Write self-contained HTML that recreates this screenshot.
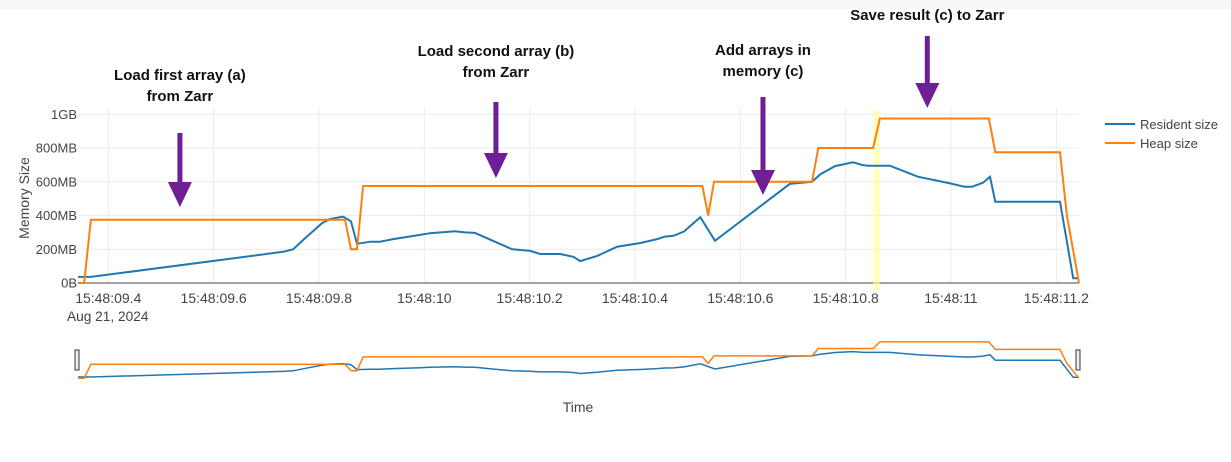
<!DOCTYPE html>
<html><head><meta charset="utf-8"><style>
body{margin:0;background:#fff;width:1231px;height:457px;overflow:hidden;font-family:"Liberation Sans",Arial,sans-serif}
svg text{font-family:"Liberation Sans",Arial,sans-serif}
</style></head><body>
<svg id="chart" width="1231" height="457" xmlns="http://www.w3.org/2000/svg">
<rect x="0" y="0" width="1231" height="9" fill="#f6f7f9"/>
<g id="grid"></g>
<rect x="873" y="110" width="7" height="180" fill="#ffff99" opacity="0.6"/>
<g id="series"></g>
<g id="slider"></g>
<g id="annotations"></g>
<text transform="translate(29,198) rotate(-90)" text-anchor="middle" font-size="14" fill="#444">Memory Size</text>
<text x="578" y="412" text-anchor="middle" font-size="14" fill="#444">Time</text>
<text x="67" y="321" font-size="13.7" fill="#444">Aug 21, 2024</text>
<g>
<line x1="1105" y1="124" x2="1135" y2="124" stroke="#1f77b4" stroke-width="2"/>
<text x="1140" y="129" font-size="13" fill="#444">Resident size</text>
<line x1="1105" y1="143" x2="1135" y2="143" stroke="#ff7f0e" stroke-width="2"/>
<text x="1140" y="148" font-size="13" fill="#444">Heap size</text>
</g>
</svg>
<script>
const residentT=[9.3425,9.367,9.7318,9.7508,9.7698,9.8059,9.8211,9.8458,9.8609,9.8723,9.897,9.916,9.9407,9.992,10.011,10.058,10.077,10.096,10.134,10.167,10.201,10.220,10.258,10.283,10.296,10.328,10.366,10.410,10.442,10.457,10.473,10.493,10.524,10.552,10.694,10.736,10.752,10.780,10.814,10.831,10.841,10.884,10.937,10.994,11.026,11.040,11.061,11.074,11.084,11.207,11.232,11.243];
const residentV=[36,36,185,200,255,355,380,393,365,232,245,245,260,285,295,307,300,297,245,200,190,172,172,155,130,160,215,237,260,275,280,305,390,250,587,600,645,693,715,700,695,695,630,593,570,570,595,630,482,482,28,28];
const heapT=[9.3425,9.354,9.367,9.8495,9.8609,9.8723,9.8837,10.528,10.539,10.550,10.736,10.748,10.852,10.865,11.072,11.084,11.207,11.220,11.243];
const heapV=[0,0,375,375,200,200,575,575,400,600,600,800,800,975,975,775,775,400,0];
const yTicks=[0,200,400,600,800,1000];
const yTickLabels=["0B","200MB","400MB","600MB","800MB","1GB"];
const xTicks=[9.4,9.6,9.8,10.0,10.2,10.4,10.6,10.8,11.0,11.2];
const xTickLabels=["15:48:09.4","15:48:09.6","15:48:09.8","15:48:10","15:48:10.2","15:48:10.4","15:48:10.6","15:48:10.8","15:48:11","15:48:11.2"];
const annTexts=[["Load first array (a)","from Zarr"],["Load second array (b)","from Zarr"],["Add arrays in","memory (c)"],["Save result (c) to Zarr"]];
const annT=[9.536,10.136,10.643,10.955];
const annTextY=[80,56,55,20];
const annArrowTop=[133,102,97,36];
const annArrowTip=[207,178,195,108];

const NS="http://www.w3.org/2000/svg";
const X0=78,X1=1079,T0=9.3425,T1=11.243;
const x=t=>X0+(t-T0)/(T1-T0)*(X1-X0);
const y=v=>283-v*0.16875;
const ys=v=>378.3-v*0.0373;
function mk(tag,attrs,parent){const e=document.createElementNS(NS,tag);for(const k in attrs)e.setAttribute(k,attrs[k]);parent.appendChild(e);return e;}
const grid=document.getElementById('grid');
yTicks.forEach((v,i)=>{
  if(v>0){const l=mk('line',{x1:X0,x2:X1,y1:y(v),y2:y(v),stroke:'#ebebeb','stroke-width':1},grid);
  
  }
  const t=mk('text',{x:X0-1,y:y(v)+4.5,'text-anchor':'end','font-size':13,fill:'#444'},grid);t.textContent=yTickLabels[i];
  
  
});
xTicks.forEach((v,i)=>{
  const l=mk('line',{x1:x(v),x2:x(v),y1:107,y2:283,stroke:'#ebebeb','stroke-width':1},grid);
  
  
  const t=mk('text',{x:x(v),y:303,'text-anchor':'middle','font-size':14,fill:'#444'},grid);t.textContent=xTickLabels[i];
  
  
});
const zl=mk('line',{x1:X0,x2:X1,y1:283,y2:283,stroke:'#444','stroke-width':1},grid);


const ser=document.getElementById('series');
function path(T,V,fy){return T.map((t,i)=>(i?'L':'M')+x(t).toFixed(1)+','+fy(V[i]).toFixed(1)).join('');}
const p1=mk('path',{d:path(residentT,residentV,y),fill:'none',stroke:'#1f77b4','stroke-width':2},ser);


const p2=mk('path',{d:path(heapT,heapV,y),fill:'none',stroke:'#ff7f0e','stroke-width':2},ser);


const sl=document.getElementById('slider');
const s1=mk('path',{d:path(residentT,residentV,ys),fill:'none',stroke:'#1f77b4','stroke-width':1.5},sl);


const s2=mk('path',{d:path(heapT,heapV,ys),fill:'none',stroke:'#ff7f0e','stroke-width':1.5},sl);


[75,1076].forEach(hx=>{const h=mk('rect',{x:hx,y:350,width:4,height:20,fill:'#eee',stroke:'#333','stroke-width':1},sl);

});
const an=document.getElementById('annotations');
annT.forEach((t,i)=>{
  const cx=x(t);
  annTexts[i].forEach((s,j)=>{const tx=mk('text',{x:cx,y:annTextY[i]+j*21,'text-anchor':'middle','font-size':15,'font-weight':'bold',fill:'#111'},an);tx.textContent=s;
  
  });
  const tip=annArrowTip[i],hb=tip-25;
  const a=mk('path',{d:`M${cx-2.5},${annArrowTop[i]}L${cx+2.5},${annArrowTop[i]}L${cx+2.5},${hb}L${cx+12},${hb}L${cx},${tip}L${cx-12},${hb}L${cx-2.5},${hb}Z`,fill:'#6e1f96'},an);
  
  
});
</script>
</body></html>
